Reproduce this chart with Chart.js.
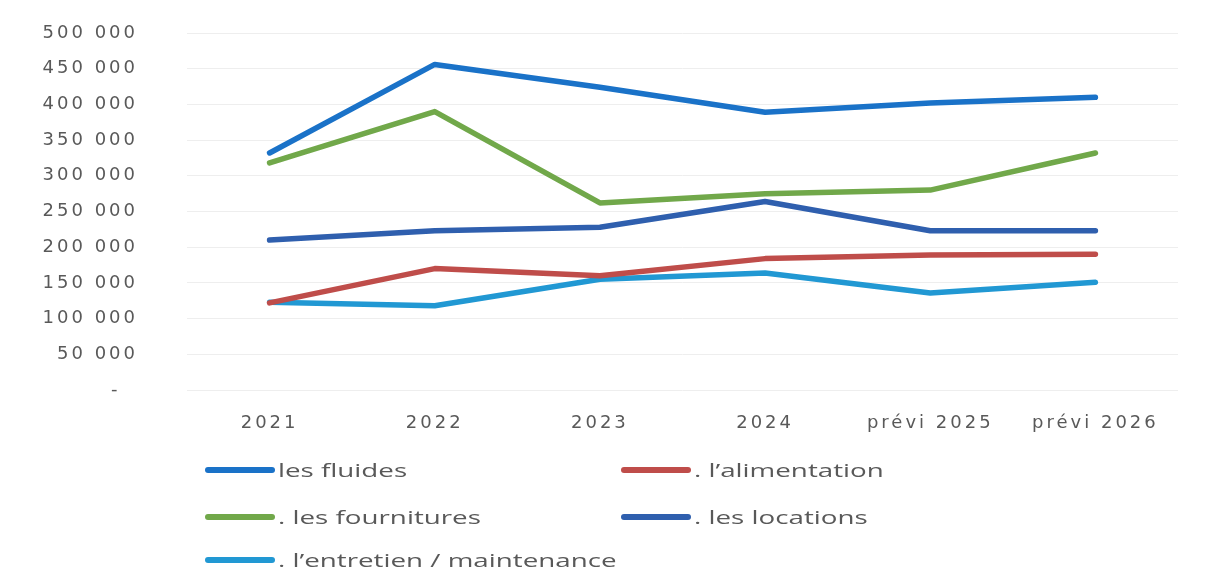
<!DOCTYPE html>
<html>
<head>
<meta charset="utf-8">
<script src="https://cdn.jsdelivr.net/npm/chart.js@4"></script>
<style>
  html, body { margin: 0; padding: 0; background: #fff; }
  #wrap { position: relative; width: 1219px; height: 588px; }
  #chart { position: absolute; left: 0; top: 0; }
  #legend { position: absolute; left: 0; top: 0; width: 1219px; height: 588px; pointer-events: none; }
  .item { position: absolute; height: 24px; display: flex; align-items: center; }
  .swatch { width: 70px; height: 6px; border-radius: 3px; margin-right: 3px; }
  .label { font-family: 'Open Sans', sans-serif; font-size: 19px; color: #595959;
           display: inline-block; transform: scaleX(1.46); transform-origin: left center; white-space: nowrap; }
</style>
</head>
<body>
<div id="wrap">
  <canvas id="chart" width="1219" height="588"></canvas>
  <div id="legend"></div>
</div>
<script>
const years = ['2021', '2022', '2023', '2024', 'prévi 2025', 'prévi 2026'];
const fluides = [332000, 456000, 424000, 389000, 402000, 410000];
const alimentation = [122000, 170000, 160000, 184000, 189000, 190000];
const fournitures = [318000, 390000, 262000, 275000, 280000, 332000];
const locations = [210000, 223000, 228000, 264000, 223000, 223000];
const entretien = [123000, 118000, 155000, 164000, 136000, 151000];

const seriesNames = ['les fluides', '. l\u2019alimentation', '. les fournitures', '. les locations', '. l\u2019entretien / maintenance'];
const seriesColors = ['#1a72c8', '#bf4d4a', '#71a84a', '#2f5fae', '#2198d3'];
const seriesValues = [fluides, alimentation, fournitures, locations, entretien];

const fmt = v => v === 0 ? '-  ' : String(v).replace(/\B(?=(\d{3})+(?!\d))/g, ' ');

// wider text, like the stretched original
const spacing = {
    id: 'spacing',
    beforeDraw: (chart) => { chart.ctx.letterSpacing = '3px'; },
    afterDraw: (chart) => { chart.ctx.letterSpacing = '0px'; }
};

const datasets = seriesNames.map((name, i) => ({
    label: name,
    data: seriesValues[i],
    borderColor: seriesColors[i],
    backgroundColor: seriesColors[i],
    borderWidth: 5.5,
    borderCapStyle: 'round',
    borderJoinStyle: 'round',
    pointRadius: 0,
    tension: 0
}));

new Chart(document.getElementById('chart').getContext('2d'), {
    type: 'line',
    data: { labels: years, datasets: datasets },
    plugins: [spacing],
    options: {
        responsive: false,
        animation: false,
        layout: { padding: { top: 33, right: 41, bottom: 148, left: 0 } },
        plugins: { legend: { display: false }, tooltip: { enabled: false } },
        scales: {
            x: {
                offset: true,
                grid: { display: false },
                border: { display: false },
                ticks: { color: '#595959', font: { family: 'DejaVu Sans', size: 18 }, padding: 15, maxRotation: 0 },
                afterFit: (scale) => { scale.height = 50; }
            },
            y: {
                min: 0,
                max: 500000,
                // tick marks are invisible, they only push the labels left
                grid: { color: '#eeeeee', lineWidth: 1, drawTicks: true, tickLength: 49, tickColor: 'rgba(0,0,0,0)' },
                border: { display: false },
                ticks: { stepSize: 50000, color: '#595959', font: { family: 'DejaVu Sans', size: 18 }, padding: 0, callback: fmt },
                afterFit: (scale) => { scale.width = 187; }
            }
        }
    }
});

const legend = document.getElementById('legend');
const legendPos = [[205, 470], [621, 470], [205, 517], [621, 517], [205, 560]];
seriesNames.forEach((name, i) => {
    const item = document.createElement('div');
    item.className = 'item';
    item.style.left = legendPos[i][0] + 'px';
    item.style.top = (legendPos[i][1] - 12) + 'px';
    item.innerHTML = `<span class="swatch" style="background:${seriesColors[i]}"></span><span class="label">${name}</span>`;
    legend.appendChild(item);
});
</script>
</body>
</html>
